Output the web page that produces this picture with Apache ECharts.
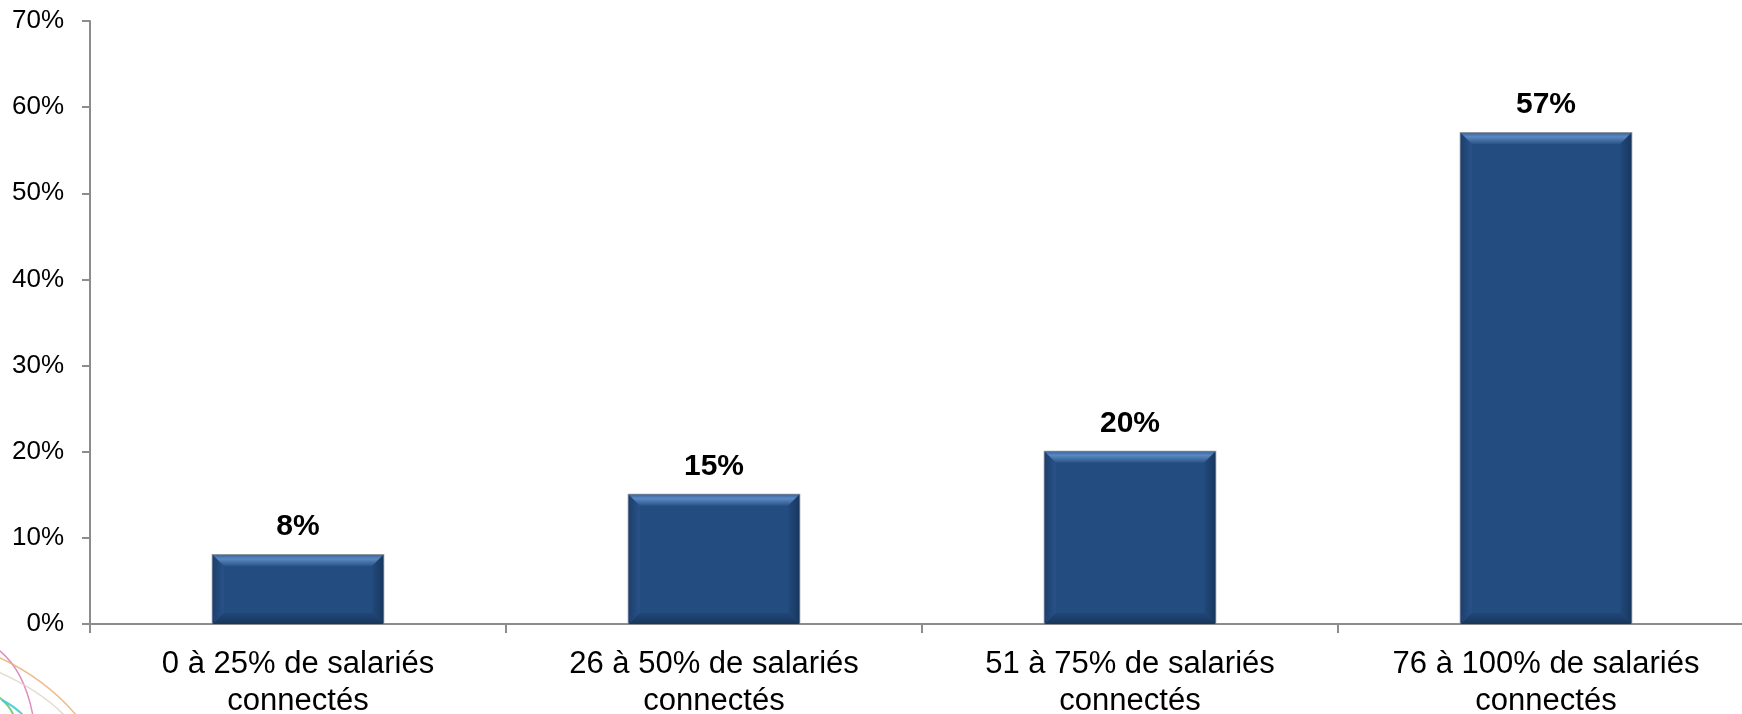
<!DOCTYPE html>
<html>
<head>
<meta charset="utf-8">
<script src="https://cdn.jsdelivr.net/npm/echarts@6/dist/echarts.min.js"></script>
<style>
  html, body { margin: 0; padding: 0; background: #ffffff; }
  #chart { width: 1742px; height: 714px; }
</style>
</head>
<body>
<div id="chart"></div>
<script>
// Share of companies by proportion of connected employees
const categories = [
  '0 à 25% de salariés\nconnectés',
  '26 à 50% de salariés\nconnectés',
  '51 à 75% de salariés\nconnectés',
  '76 à 100% de salariés\nconnectés'
];
const values = [8, 15, 20, 57];
const yTicks = { min: 0, max: 70, interval: 10 };

const FONT = '"Liberation Sans", Arial, sans-serif';
const BAR_COLOR = '#234c80';

// Bevelled bar: face plus four edge facets, with the value printed above
function renderBar(params, api) {
  const idx = api.value(0);
  const v = api.value(1);
  const base = api.coord([idx, 0]);
  const top = api.coord([idx, v]);
  const w = api.size([1, 0])[0] * 0.41;
  const x0 = base[0] - w / 2, x1 = base[0] + w / 2;
  const y0 = top[1], y1 = base[1];
  const b = Math.min(11, (y1 - y0) / 3);
  return {
    type: 'group',
    children: [
      { type: 'rect', shape: { x: x0 - 1, y: y0 - 1, width: w + 2, height: y1 - y0 + 1 },
        style: { fill: '#8e96a0' } },
      { type: 'rect', shape: { x: x0, y: y0, width: w, height: y1 - y0 },
        style: { fill: BAR_COLOR } },
      // top facet
      { type: 'polygon', shape: { points: [[x0, y0], [x1, y0], [x1 - b, y0 + b], [x0 + b, y0 + b]] },
        style: { fill: new echarts.graphic.LinearGradient(0, 0, 0, 1, [
          { offset: 0, color: '#3e6aa3' }, { offset: 0.35, color: '#5a88c0' }, { offset: 1, color: '#2b5488' }]) } },
      // left facet
      { type: 'polygon', shape: { points: [[x0, y0], [x0 + b, y0 + b], [x0 + b, y1 - b], [x0, y1]] },
        style: { fill: new echarts.graphic.LinearGradient(0, 0, 1, 0, [
          { offset: 0, color: '#1d3f6c' }, { offset: 1, color: '#29528a' }]) } },
      // right facet
      { type: 'polygon', shape: { points: [[x1, y0], [x1, y1], [x1 - b, y1 - b], [x1 - b, y0 + b]] },
        style: { fill: new echarts.graphic.LinearGradient(0, 0, 1, 0, [
          { offset: 0, color: '#22497b' }, { offset: 1, color: '#183760' }]) } },
      // bottom facet
      { type: 'polygon', shape: { points: [[x0, y1], [x0 + b, y1 - b], [x1 - b, y1 - b], [x1, y1]] },
        style: { fill: new echarts.graphic.LinearGradient(0, 0, 0, 1, [
          { offset: 0, color: '#21467a' }, { offset: 1, color: '#173659' }]) } },
      { type: 'text',
        style: { text: v + '%', x: base[0], y: y0 - 13, align: 'center', verticalAlign: 'bottom',
                 fill: '#000000', font: 'bold 30px ' + FONT } }
    ]
  };
}

// Decorative swirl strokes in the lower-left corner
function swirl(x1, y1, cx, cy, x2, y2, color, width) {
  return { type: 'bezierCurve', silent: true,
           shape: { x1: x1, y1: y1, cpx1: cx, cpy1: cy, x2: x2, y2: y2 },
           style: { fill: 'none', stroke: color, lineWidth: width, opacity: 0.85 } };
}

const chart = echarts.init(document.getElementById('chart'), null, { renderer: 'canvas' });
chart.setOption({
  animation: false,
  backgroundColor: '#ffffff',
  grid: { left: 90, right: -12, top: 21, bottom: 90, containLabel: false, outerBoundsMode: 'none' },
  xAxis: {
    type: 'category',
    data: categories,
    boundaryGap: true,
    axisLine: { lineStyle: { color: '#8c8c8c', width: 2 } },
    axisTick: { show: true, length: 9, lineStyle: { color: '#8c8c8c', width: 2 } },
    axisLabel: { color: '#000000', fontFamily: FONT, fontSize: 31, lineHeight: 37, margin: 22 }
  },
  yAxis: {
    type: 'value',
    min: yTicks.min, max: yTicks.max, interval: yTicks.interval,
    axisLine: { show: true, lineStyle: { color: '#8c8c8c', width: 2 } },
    axisTick: { show: true, length: 8, lineStyle: { color: '#8c8c8c', width: 2 } },
    splitLine: { show: false },
    axisLabel: { color: '#000000', fontFamily: FONT, fontSize: 26, margin: 26, formatter: '{value}%' }
  },
  series: [{
    type: 'custom',
    renderItem: renderBar,
    data: values.map((v, i) => [i, v]),
    encode: { x: 0, y: 1 },
    z: 3
  }],
  graphic: [
    swirl(-4, 648, 24, 668, 33, 716, '#d77ab3', 1.5),
    swirl(-4, 656, 45, 678, 77, 716, '#eab17a', 1.5),
    swirl(-4, 671, 40, 690, 65, 716, '#ddd5c6', 1.5),
    swirl(-3, 696, 8, 703, 14, 716, '#62c46a', 2),
    swirl(2, 700, 14, 706, 24, 716, '#3ec9d6', 2)
  ]
});
</script>
</body>
</html>
